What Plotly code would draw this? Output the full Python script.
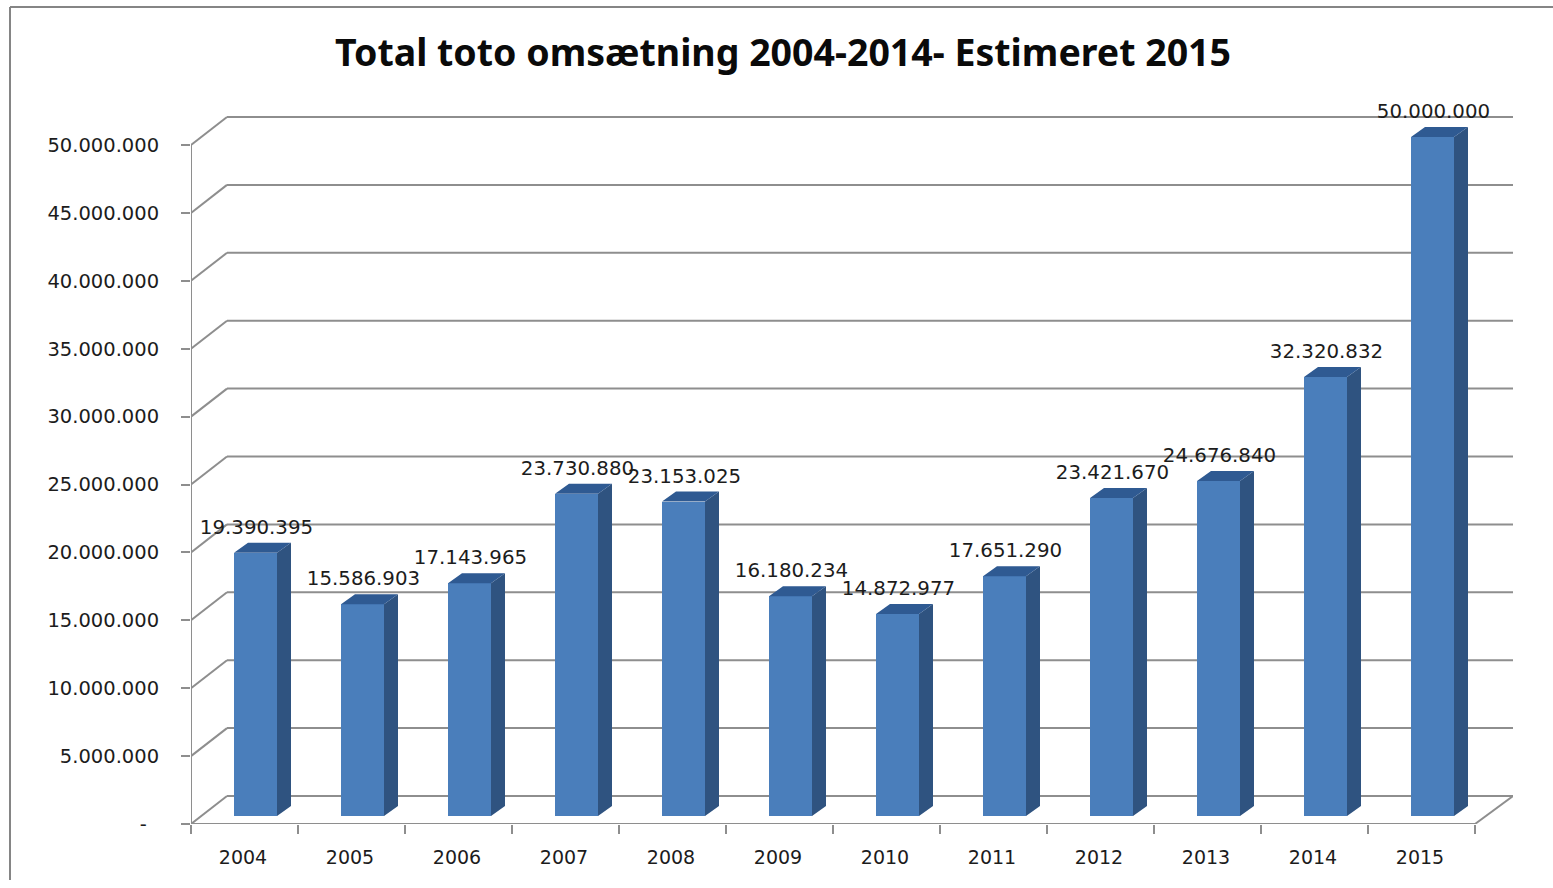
import plotly.graph_objects as go

years = ["2004", "2005", "2006", "2007", "2008", "2009", "2010", "2011", "2012", "2013", "2014", "2015"]
values = [19390395, 15586903, 17143965, 23730880, 23153025, 16180234, 14872977, 17651290, 23421670, 24676840, 32320832, 50000000]
y_ticks = [0, 5000000, 10000000, 15000000, 20000000, 25000000, 30000000, 35000000, 40000000, 45000000, 50000000]
title_text = "Total toto omsætning 2004-2014- Estimeret 2015"

W, H = 1553, 888
L, R, T, B = 191, 1513, 96, 824       # plot box in page pixels (top leaves room for the highest label)
FRONT_TOP = 145                       # pixel height of 50.000.000 on the front axis
CAT_PX = (1475 - 191) / 12
V_PER_PX = 50000000 / (B - FRONT_TOP)

def dx(px):
    return px / CAT_PX

def dv(px):
    return px * V_PER_PX

def fmt(v):
    return f"{v:,}".replace(",", ".")

WALL_L, WALL_R, WALL_Y = dx(36), dx(38), dv(28)
X0, X1 = -0.5, 11.5
BAR_W = dx(43)
BAR_SHIFT = dx(11)
BAR_LIFT = dv(8)
DEPTH_X, DEPTH_Y = dx(14), dv(10)
LABEL_UP = dv(24)
LABEL_SHIFT = dx(1)
TICK_SHIFT = dx(-1.5)

GRID = "#8e8e8e"
TEXT = "#1c1c1c"
shapes = []

def line(x0, y0, x1, y1, width=2):
    shapes.append(dict(type="line", xref="x", yref="y", x0=x0, y0=y0, x1=x1, y1=y1,
                       layer="below", line=dict(color=GRID, width=width)))

for v in y_ticks:
    line(X0, v, X0 + WALL_L, v + WALL_Y)
    line(X0 + WALL_L, v + WALL_Y, X1 + WALL_R, v + WALL_Y)

line(X0, 0, X0, 50000000)
line(X0, 0, X1, 0)
line(X1, 0, X1 + WALL_R, WALL_Y)

# outer chart frame (top and left edges)
px_w, px_h = R - L, B - T
for x0, y0, x1, y1 in [(10, 7, W, 7), (10, 7, 10, 880)]:
    shapes.append(dict(type="line", xref="paper", yref="paper",
                       x0=(x0 - L) / px_w, x1=(x1 - L) / px_w,
                       y0=(B - y0) / px_h, y1=(B - y1) / px_h,
                       layer="below", line=dict(color="#858585", width=2)))

centers = [i + BAR_SHIFT for i in range(len(values))]

fig = go.Figure()
fig.add_trace(go.Bar(x=centers, y=values, base=[BAR_LIFT] * len(values), width=BAR_W,
                     marker=dict(color="#4a7ebb", line=dict(width=0)), hoverinfo="skip"))

side_x, side_y, top_x, top_y = [], [], [], []
for c, v in zip(centers, values):
    l, r = c - BAR_W / 2, c + BAR_W / 2
    t = v + BAR_LIFT
    side_x += [r, r + DEPTH_X, r + DEPTH_X, r, r, None]
    side_y += [BAR_LIFT, BAR_LIFT + DEPTH_Y, t + DEPTH_Y, t, BAR_LIFT, None]
    top_x += [l, l + DEPTH_X, r + DEPTH_X, r, l, None]
    top_y += [t, t + DEPTH_Y, t + DEPTH_Y, t, t, None]

fig.add_trace(go.Scatter(x=side_x, y=side_y, mode="lines", fill="toself", fillcolor="#2f5380",
                         line=dict(width=0), hoverinfo="skip"))
fig.add_trace(go.Scatter(x=top_x, y=top_y, mode="lines", fill="toself", fillcolor="#2f5a92",
                         line=dict(width=0), hoverinfo="skip"))
fig.add_trace(go.Scatter(x=[c + LABEL_SHIFT for c in centers],
                         y=[v + BAR_LIFT + LABEL_UP for v in values],
                         mode="text", text=[fmt(v) for v in values], textposition="middle center",
                         textfont=dict(family="DejaVu Sans", size=19.8, color=TEXT),
                         cliponaxis=False, hoverinfo="skip"))

fig.update_layout(
    width=W, height=H, autosize=False, showlegend=False, bargap=0,
    paper_bgcolor="white", plot_bgcolor="rgba(0,0,0,0)",
    margin=dict(l=L, r=W - R, t=T, b=H - B, pad=0),
    title=dict(text=f"<b>{title_text}</b>", x=783 / W, xanchor="center", y=1 - 53 / H, yanchor="middle",
               font=dict(family="Noto Sans", size=37.5, color="#0a0a0a")),
    xaxis=dict(range=[X0, X1 + WALL_R], tickmode="array",
               tickvals=[i + TICK_SHIFT for i in range(len(years))], ticktext=years,
               ticks="", showgrid=False, zeroline=False, showline=False, ticklabelstandoff=20,
               tickfont=dict(family="DejaVu Sans", size=19, color=TEXT),
               minor=dict(ticks="outside", tick0=-0.5, dtick=1, ticklen=9, tickwidth=2, tickcolor=GRID, showgrid=False)),
    yaxis=dict(range=[0, (B - T) * V_PER_PX], tickmode="array", tickvals=y_ticks,
               ticktext=["-\u00a0\u00a0"] + [fmt(v) for v in y_ticks[1:]],
               ticks="outside", ticklen=9, tickwidth=2, tickcolor=GRID, showgrid=False, zeroline=False,
               showline=False, ticklabelstandoff=18,
               tickfont=dict(family="DejaVu Sans", size=19.5, color=TEXT)),
    shapes=shapes,
)

fig.write_html("out.html", config=dict(displayModeBar=False), post_script="document.body.style.margin='0';")
